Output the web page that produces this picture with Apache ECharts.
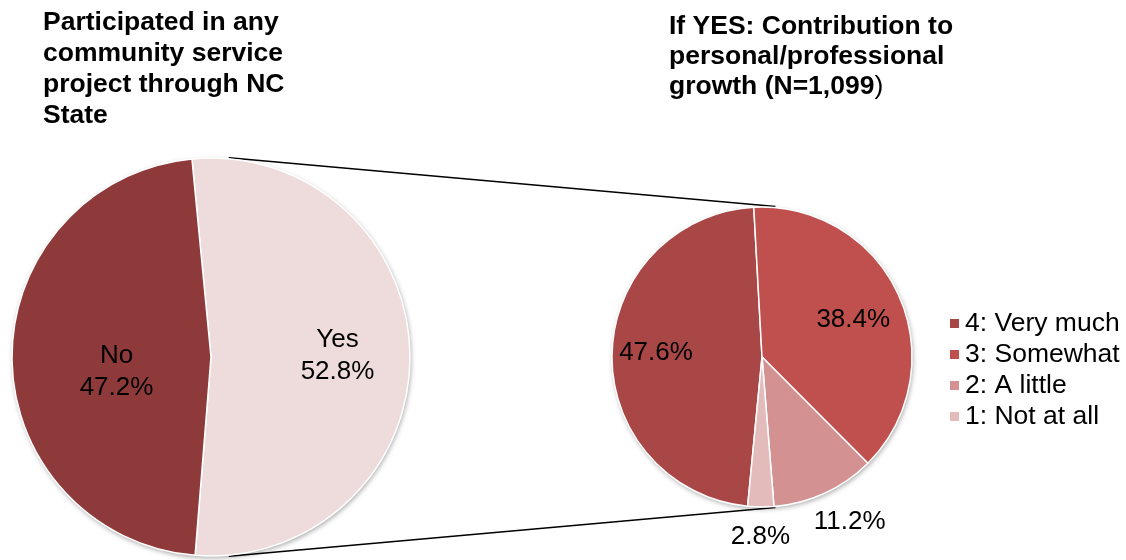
<!DOCTYPE html>
<html>
<head>
<meta charset="utf-8">
<script src="https://cdn.jsdelivr.net/npm/echarts@6/dist/echarts.min.js"></script>
<style>
  html, body { margin: 0; padding: 0; background: #fff; }
  #chart { width: 1126px; height: 560px; }
</style>
</head>
<body>
<div id="chart"></div>
<script>
// Participation in community service (all respondents)
const participationNames = ['Yes', 'No'];
const participationValues = [52.8, 47.2];

// Contribution to growth among those who answered Yes
const growthNames = ['4: Very much', '3: Somewhat', '2: A little', '1: Not at all'];
const growthValues = [47.6, 38.4, 11.2, 2.8];

// Layout and styling
const FONT = '"Liberation Sans", Arial, sans-serif';
const leftPie = { cx: 211, cy: 357, r: 199, start: 95.5 };
const rightPie = { cx: 762, cy: 357, r: 150, start: 264.5 };
const participationColors = ['#EEDCDC', '#8E3A3A'];
const growthColors = ['#A94746', '#C0504D', '#D39191', '#E3BBBB'];
const participationLabelShift = [[24, 0], [8, 14]];
const growthLabelShift = [[-28, -3], [20, -5], [55, 94], [-1, 102]];

// External tangent lines joining the two pies
function tangentLines(a, b) {
  const dx = b.cx - a.cx, dy = b.cy - a.cy;
  const d = Math.hypot(dx, dy);
  const base = Math.atan2(dy, dx);
  const phi = Math.acos((a.r - b.r) / d);
  return [base - phi, base + phi].map(ang => {
    const nx = Math.cos(ang), ny = Math.sin(ang);
    return [a.cx + (a.r + 1) * nx, a.cy + (a.r + 1) * ny,
            b.cx + (b.r + 1) * nx, b.cy + (b.r + 1) * ny];
  });
}

const connectors = tangentLines(leftPie, rightPie).map(p => ({
  type: 'line', z: 0, silent: true,
  shape: { x1: p[0], y1: p[1], x2: p[2], y2: p[3] },
  style: { stroke: '#000', lineWidth: 1.5 }
}));

const pieShadows = [leftPie, rightPie].map(p => ({
  type: 'circle', z: 1, silent: true,
  shape: { cx: p.cx, cy: p.cy, r: p.r },
  style: { fill: '#fff', shadowBlur: 5, shadowColor: 'rgba(0,0,0,0.35)', shadowOffsetX: 1, shadowOffsetY: 2 }
}));

const labelBase = {
  show: true, position: 'inside', color: '#000',
  fontFamily: FONT, fontSize: 26, lineHeight: 32
};

const chart = echarts.init(document.getElementById('chart'), null, { renderer: 'canvas' });
chart.setOption({
  animation: false,
  backgroundColor: '#fff',
  title: [
    {
      text: 'Participated in any\ncommunity service\nproject through NC\nState',
      left: 43, top: 7, padding: 0,
      textStyle: { fontFamily: FONT, fontSize: 26.5, fontWeight: 'bold', lineHeight: 31, color: '#000' }
    },
    {
      text: '{b|If YES: Contribution to}\n{b|personal/professional}\n{b|growth (N=1,099}{n|)}',
      left: 669, top: 12, padding: 0,
      textStyle: {
        fontFamily: FONT, fontSize: 26.5, lineHeight: 30, color: '#000',
        rich: {
          b: { fontFamily: FONT, fontSize: 26.5, fontWeight: 'bold', lineHeight: 30, color: '#000' },
          n: { fontFamily: FONT, fontSize: 26.5, fontWeight: 'normal', lineHeight: 30, color: '#000' }
        }
      }
    }
  ],
  legend: {
    data: growthNames,
    orient: 'vertical',
    left: 948, top: 310, padding: 0,
    itemWidth: 11, itemHeight: 11, itemGap: 4,
    icon: 'rect',
    selectedMode: false,
    textStyle: { fontFamily: FONT, fontSize: 26.5, lineHeight: 26, color: '#000' }
  },
  graphic: { elements: connectors.concat(pieShadows) },
  series: [
    {
      type: 'pie',
      z: 2,
      center: [leftPie.cx, leftPie.cy],
      radius: leftPie.r,
      startAngle: leftPie.start,
      clockwise: true,
      avoidLabelOverlap: false,
      labelLine: { show: false },
      emphasis: { disabled: true },
      itemStyle: { borderColor: '#fff', borderWidth: 1.5 },
      data: participationNames.map((n, i) => ({
        name: n,
        value: participationValues[i],
        itemStyle: { color: participationColors[i] },
        label: Object.assign({}, labelBase, {
          offset: participationLabelShift[i],
          formatter: p => p.name + '\n' + p.value.toFixed(1) + '%'
        })
      }))
    },
    {
      type: 'pie',
      z: 2,
      center: [rightPie.cx, rightPie.cy],
      radius: rightPie.r,
      startAngle: rightPie.start,
      clockwise: true,
      avoidLabelOverlap: false,
      labelLine: { show: false },
      emphasis: { disabled: true },
      itemStyle: { borderColor: '#fff', borderWidth: 1.5 },
      data: growthNames.map((n, i) => ({
        name: n,
        value: growthValues[i],
        itemStyle: { color: growthColors[i] },
        label: Object.assign({}, labelBase, {
          offset: growthLabelShift[i],
          formatter: p => p.value.toFixed(1) + '%'
        })
      }))
    }
  ]
});
</script>
</body>
</html>
